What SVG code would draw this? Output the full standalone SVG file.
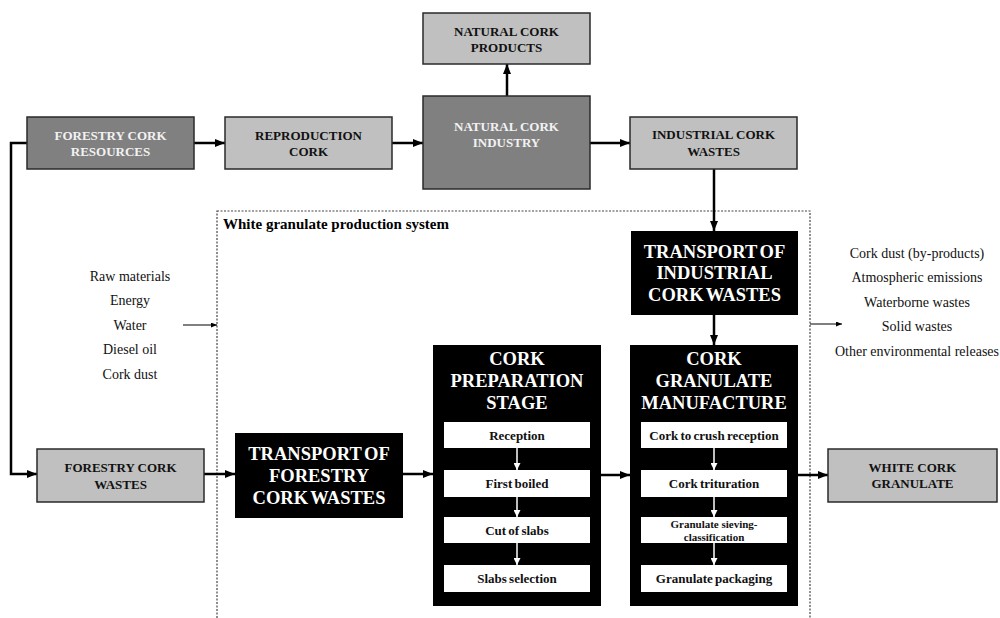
<svg xmlns="http://www.w3.org/2000/svg" width="1000" height="618" viewBox="0 0 1000 618">
  <defs>
    <marker id="arr" viewBox="0 0 10 8" refX="10" refY="4" markerWidth="10" markerHeight="8" markerUnits="userSpaceOnUse" orient="auto">
      <path d="M0,0 L10,4 L0,8 z" fill="#000"/>
    </marker>
    <marker id="arr-thin" viewBox="0 0 6 5" refX="6" refY="2.5" markerWidth="6" markerHeight="5" markerUnits="userSpaceOnUse" orient="auto">
      <path d="M0,0 L6,2.5 L0,5 z" fill="#000"/>
    </marker>
    <marker id="arr-white" viewBox="0 0 7 7" refX="7" refY="3.5" markerWidth="7" markerHeight="7" markerUnits="userSpaceOnUse" orient="auto">
      <path d="M0,0 L7,3.5 L0,7 z" fill="#fff"/>
    </marker>
  </defs>
  <style>
    text { font-family: "Liberation Serif", "Times New Roman", serif; text-anchor: middle; }
    .light { fill: #c0c0c0; stroke: #2a2a2a; stroke-width: 1.5; }
    .dark { fill: #808080; stroke: #2a2a2a; stroke-width: 1.5; }
    .black { fill: #000; }
    .step { fill: #fff; }
    .lbl { font-size: 13px; font-weight: bold; fill: #111; }
    .lbl-w { font-size: 13px; font-weight: bold; fill: #f2f2f2; }
    .big { font-size: 18.5px; font-weight: bold; fill: #fff; word-spacing: -2px; }
    .steptxt { font-size: 13px; font-weight: bold; fill: #111; word-spacing: -1px; }
    .steptxt-s { font-size: 11px; font-weight: bold; fill: #111; }
    .flow { font-size: 14px; fill: #111; }
    .title { font-size: 15px; font-weight: bold; fill: #000; text-anchor: start; }
    .conn { fill: none; stroke: #000; stroke-width: 2.5; marker-end: url(#arr); }
    .conn-thin { fill: none; stroke: #000; stroke-width: 1; marker-end: url(#arr-thin); }
    .conn-white { fill: none; stroke: #fff; stroke-width: 1.5; marker-end: url(#arr-white); }
    .boundary { fill: none; stroke: #444; stroke-width: 1.2; stroke-dasharray: 2 1.5; }
  </style>

  <!-- system boundary -->
  <g id="system-boundary">
    <rect class="boundary" x="217" y="211" width="593" height="440"/>
    <text class="title" x="223" y="229">White granulate production system</text>
  </g>

  <!-- connectors -->
  <g id="connectors">
    <path class="conn" d="M194,143 L225,143"/>
    <path class="conn" d="M392,143 L423,143"/>
    <path class="conn" d="M590,143 L630,143"/>
    <path class="conn" d="M507,96 L507,64"/>
    <path class="conn" d="M714,169 L714,231"/>
    <path class="conn" d="M714,315 L714,345"/>
    <path class="conn" d="M27,143 L11,143 L11,474 L37,474"/>
    <path class="conn" d="M204,474 L235,474"/>
    <path class="conn" d="M403,474 L433,474"/>
    <path class="conn" d="M601,475 L630,475"/>
    <path class="conn" d="M798,475 L828,475"/>
    <path class="conn-thin" d="M183,325 L217,325"/>
    <path class="conn-thin" d="M810,324 L842,324"/>
  </g>

  <!-- top row -->
  <g id="forestry-cork-resources">
    <rect class="dark" x="27" y="117" width="167" height="52"/>
    <text class="lbl-w" x="110.5" y="140">FORESTRY CORK</text>
    <text class="lbl-w" x="110.5" y="156">RESOURCES</text>
  </g>
  <g id="reproduction-cork">
    <rect class="light" x="225" y="117" width="167" height="52"/>
    <text class="lbl" x="308.5" y="140">REPRODUCTION</text>
    <text class="lbl" x="308.5" y="156">CORK</text>
  </g>
  <g id="natural-cork-products">
    <rect class="light" x="423" y="13" width="167" height="51"/>
    <text class="lbl" x="506.5" y="36">NATURAL CORK</text>
    <text class="lbl" x="506.5" y="52">PRODUCTS</text>
  </g>
  <g id="natural-cork-industry">
    <rect class="dark" x="423" y="96" width="167" height="93"/>
    <text class="lbl-w" x="506.5" y="131">NATURAL CORK</text>
    <text class="lbl-w" x="506.5" y="147">INDUSTRY</text>
  </g>
  <g id="industrial-cork-wastes">
    <rect class="light" x="630" y="117" width="167" height="52"/>
    <text class="lbl" x="713.5" y="139">INDUSTRIAL CORK</text>
    <text class="lbl" x="713.5" y="156">WASTES</text>
  </g>

  <!-- inputs and outputs -->
  <g id="inputs">
    <text class="flow" x="130" y="281">Raw materials</text>
    <text class="flow" x="130" y="305">Energy</text>
    <text class="flow" x="130" y="330">Water</text>
    <text class="flow" x="130" y="354">Diesel oil</text>
    <text class="flow" x="130" y="379">Cork dust</text>
  </g>
  <g id="outputs">
    <text class="flow" x="917" y="258">Cork dust (by-products)</text>
    <text class="flow" x="917" y="282">Atmospheric emissions</text>
    <text class="flow" x="917" y="307">Waterborne wastes</text>
    <text class="flow" x="917" y="331">Solid wastes</text>
    <text class="flow" x="917" y="356">Other environmental releases</text>
  </g>

  <!-- transport stages -->
  <g id="transport-industrial">
    <rect class="black" x="631" y="231" width="167" height="84"/>
    <text class="big" x="714.5" y="258">TRANSPORT OF</text>
    <text class="big" x="714.5" y="279">INDUSTRIAL</text>
    <text class="big" x="714.5" y="301">CORK WASTES</text>
  </g>
  <g id="forestry-cork-wastes">
    <rect class="light" x="37" y="449" width="167" height="53"/>
    <text class="lbl" x="120.5" y="472">FORESTRY CORK</text>
    <text class="lbl" x="120.5" y="489">WASTES</text>
  </g>
  <g id="transport-forestry">
    <rect class="black" x="235" y="433" width="168" height="85"/>
    <text class="big" x="319" y="460">TRANSPORT OF</text>
    <text class="big" x="319" y="482">FORESTRY</text>
    <text class="big" x="319" y="504">CORK WASTES</text>
  </g>

  <!-- cork preparation stage -->
  <g id="cork-preparation">
    <rect class="black" x="433" y="345" width="168" height="261"/>
    <text class="big" x="517" y="365">CORK</text>
    <text class="big" x="517" y="387">PREPARATION</text>
    <text class="big" x="517" y="409">STAGE</text>
    <rect class="step" x="444" y="422" width="146" height="26"/>
    <rect class="step" x="444" y="470" width="146" height="27"/>
    <rect class="step" x="444" y="517" width="146" height="26"/>
    <rect class="step" x="444" y="565" width="146" height="27"/>
    <path class="conn-white" d="M517,448 L517,470"/>
    <path class="conn-white" d="M517,497 L517,517"/>
    <path class="conn-white" d="M517,543 L517,565"/>
    <text class="steptxt" x="517" y="440">Reception</text>
    <text class="steptxt" x="517" y="488">First boiled</text>
    <text class="steptxt" x="517" y="535">Cut of slabs</text>
    <text class="steptxt" x="517" y="583">Slabs selection</text>
  </g>

  <!-- cork granulate manufacture -->
  <g id="granulate-manufacture">
    <rect class="black" x="630" y="345" width="168" height="261"/>
    <text class="big" x="714" y="365">CORK</text>
    <text class="big" x="714" y="387">GRANULATE</text>
    <text class="big" x="714" y="409">MANUFACTURE</text>
    <rect class="step" x="641" y="422" width="146" height="26"/>
    <rect class="step" x="641" y="470" width="146" height="27"/>
    <rect class="step" x="641" y="517" width="146" height="26"/>
    <rect class="step" x="641" y="565" width="146" height="27"/>
    <path class="conn-white" d="M714,448 L714,470"/>
    <path class="conn-white" d="M714,497 L714,517"/>
    <path class="conn-white" d="M714,543 L714,565"/>
    <text class="steptxt" x="714" y="440">Cork to crush reception</text>
    <text class="steptxt" x="714" y="488">Cork trituration</text>
    <text class="steptxt-s" x="714" y="528">Granulate sieving-</text>
    <text class="steptxt-s" x="714" y="541">classification</text>
    <text class="steptxt" x="714" y="583">Granulate packaging</text>
  </g>

  <!-- final product -->
  <g id="white-cork-granulate">
    <rect class="light" x="828" y="449" width="169" height="53"/>
    <text class="lbl" x="912.5" y="472">WHITE CORK</text>
    <text class="lbl" x="912.5" y="488">GRANULATE</text>
  </g>
</svg>
